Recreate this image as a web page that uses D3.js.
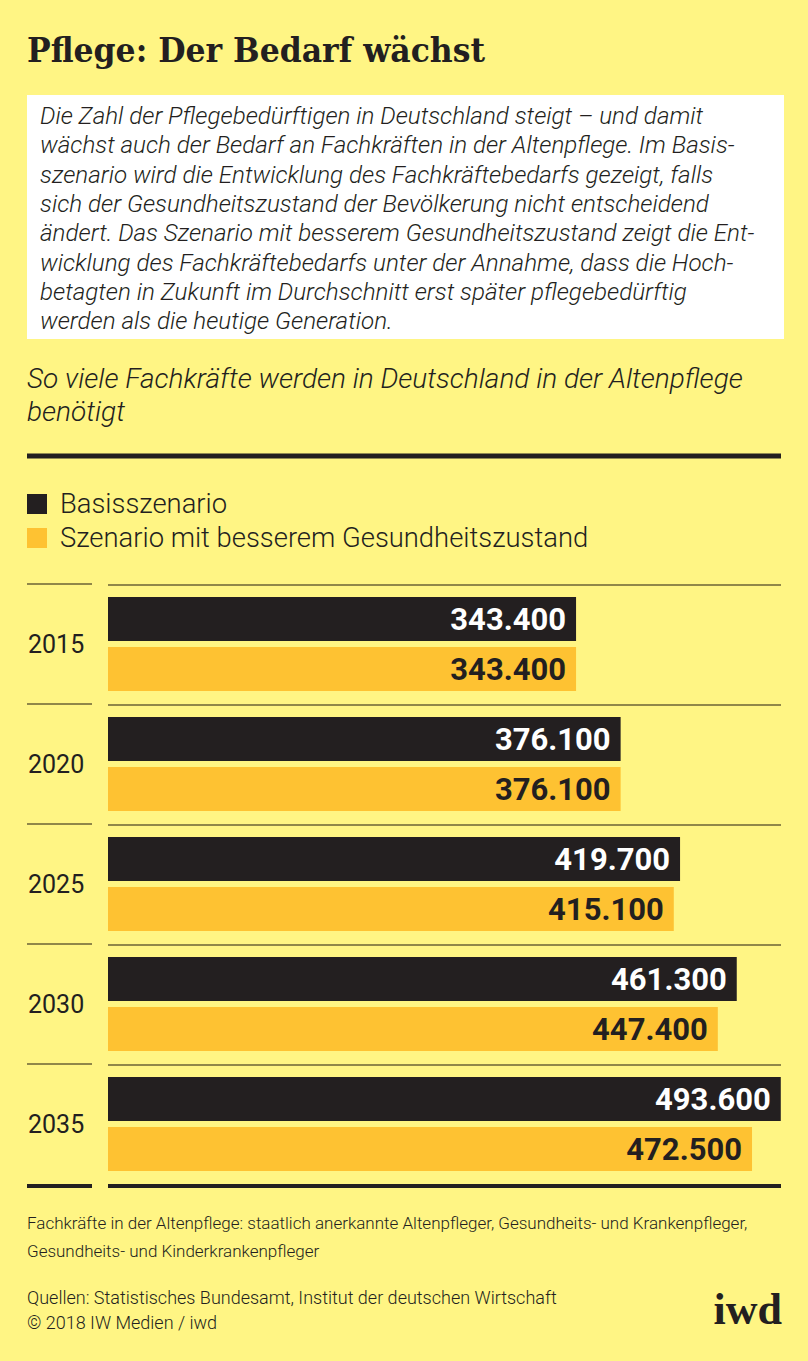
<!DOCTYPE html>
<html><head><meta charset="utf-8">
<script src="https://cdn.jsdelivr.net/npm/d3@7"></script>
<style>
html,body{margin:0;padding:0;background:#fff584;}
svg{display:block;}
</style></head>
<body>
<script>
const years = ["2015","2020","2025","2030","2035"];
const basis = [343400, 376100, 419700, 461300, 493600];
const besser = [343400, 376100, 415100, 447400, 472500];
const seriesNames = ["Basisszenario","Szenario mit besserem Gesundheitszustand"];
const title = "Pflege: Der Bedarf wächst";
const introLines = [
 "Die Zahl der Pflegebedürftigen in Deutschland steigt – und damit",
 "wächst auch der Bedarf an Fachkräften in der Altenpflege. Im Basis-",
 "szenario wird die Entwicklung des Fachkräftebedarfs gezeigt, falls",
 "sich der Gesundheitszustand der Bevölkerung nicht entscheidend",
 "ändert. Das Szenario mit besserem Gesundheitszustand zeigt die Ent-",
 "wicklung des Fachkräftebedarfs unter der Annahme, dass die Hoch-",
 "betagten in Zukunft im Durchschnitt erst später pflegebedürftig",
 "werden als die heutige Generation."
];
const subtitleLines = ["So viele Fachkräfte werden in Deutschland in der Altenpflege","benötigt"];
const noteLines = ["Fachkräfte in der Altenpflege: staatlich anerkannte Altenpfleger, Gesundheits- und Krankenpfleger,","Gesundheits- und Kinderkrankenpfleger"];
const sourceLines = ["Quellen: Statistisches Bundesamt, Institut der deutschen Wirtschaft","© 2018 IW Medien / iwd"];

const W = 808, H = 1361;
const BG = "#fff584", DARK = "#231f20", ORANGE = "#fec232", RULE = "#6b6236";
const SANS = "Roboto, 'Liberation Sans Narrow', sans-serif";

const svg = d3.select("body").append("svg").attr("width", W).attr("height", H);
svg.append("rect").attr("width", W).attr("height", H).attr("fill", BG);

// Title
svg.append("text").attr("x", 27).attr("y", 62).text(title)
  .attr("font-family", "'DejaVu Serif Condensed', 'DejaVu Serif', serif").attr("font-weight", "bold")
  .attr("font-size", 33).attr("fill", DARK)
  .attr("textLength", 458).attr("lengthAdjust", "spacingAndGlyphs");

// Intro box
svg.append("rect").attr("x", 27).attr("y", 95).attr("width", 757).attr("height", 244).attr("fill", "#ffffff");
svg.append("g").selectAll("text").data(introLines).join("text")
  .attr("x", 40).attr("y", (d, i) => 124 + i * 29.3)
  .attr("font-family", SANS).attr("font-style", "italic").attr("font-weight", 300)
  .attr("font-size", 24.2).attr("fill", DARK).text(d => d);

// Subtitle
svg.append("g").selectAll("text").data(subtitleLines).join("text")
  .attr("x", 27).attr("y", (d, i) => 388 + i * 33)
  .attr("font-family", SANS).attr("font-style", "italic").attr("font-weight", 300)
  .attr("font-size", 28).attr("fill", DARK).text(d => d);

// Thick rule
svg.append("rect").attr("x", 27).attr("y", 453.5).attr("width", 754).attr("height", 5).attr("fill", DARK);

// Legend
const colors = [DARK, ORANGE];
const lg = svg.append("g").selectAll("g").data(seriesNames).join("g")
  .attr("transform", (d, i) => `translate(27,${494 + i * 34})`);
lg.append("rect").attr("width", 20).attr("height", 20).attr("fill", (d, i) => colors[i]);
lg.append("text").attr("x", 33).attr("y", 19).text(d => d)
  .attr("font-family", SANS).attr("font-weight", 300).attr("font-size", 27.4).attr("fill", DARK);

// Scales
const x = d3.scaleLinear().domain([0, 500000]).range([108, 789.5]);
const y = d3.scaleBand().domain(years).range([584, 1184]).padding(0);
const ySub = d3.scaleBand().domain(["basis", "besser"]).range([13, 107]).paddingInner(0.12);

const de = d3.formatLocale({decimal: ",", thousands: ".", grouping: [3], currency: ["", "€"]});
const fmt = de.format(",");

// Separators
const sepG = svg.append("g");
years.forEach(yr => {
  sepG.append("line").attr("x1", 27).attr("x2", 92).attr("y1", y(yr)).attr("y2", y(yr)).attr("stroke", RULE).attr("stroke-width", 1.6);
  sepG.append("line").attr("x1", 108).attr("x2", 781).attr("y1", y(yr) + 1).attr("y2", y(yr) + 1).attr("stroke", RULE).attr("stroke-width", 1.6);
});
const yEnd = y.range()[1] + 2;
sepG.append("line").attr("x1", 27).attr("x2", 92).attr("y1", yEnd).attr("y2", yEnd).attr("stroke", DARK).attr("stroke-width", 4);
sepG.append("line").attr("x1", 108).attr("x2", 781).attr("y1", yEnd).attr("y2", yEnd).attr("stroke", DARK).attr("stroke-width", 4);

// Groups
const rows = years.map((yr, i) => ({year: yr, vals: [{k: "basis", v: basis[i]}, {k: "besser", v: besser[i]}]}));
const grp = svg.append("g").selectAll("g").data(rows).join("g")
  .attr("transform", d => `translate(0,${y(d.year)})`);

grp.append("text").attr("x", 28).attr("y", y.bandwidth() / 2 + 9).text(d => d.year)
  .attr("font-family", SANS).attr("font-size", 25).attr("fill", DARK);

const bar = grp.selectAll("g.b").data(d => d.vals).join("g").attr("class", "b");
bar.append("rect")
  .attr("x", x(0)).attr("y", d => ySub(d.k))
  .attr("width", d => x(d.v) - x(0)).attr("height", ySub.bandwidth())
  .attr("fill", d => d.k === "basis" ? DARK : ORANGE);
bar.append("text")
  .attr("x", d => x(d.v) - 10).attr("y", d => ySub(d.k) + ySub.bandwidth() / 2 + 11)
  .attr("text-anchor", "end").text(d => fmt(d.v))
  .attr("font-family", SANS).attr("font-weight", "bold").attr("font-size", 31)
  .attr("fill", d => d.k === "basis" ? "#ffffff" : DARK);

// Footer
svg.append("g").selectAll("text").data(noteLines).join("text")
  .attr("x", 27).attr("y", (d, i) => 1229 + i * 28).text(d => d)
  .attr("font-family", SANS).attr("font-weight", 300).attr("font-size", 17).attr("fill", DARK);
svg.append("g").selectAll("text").data(sourceLines).join("text")
  .attr("x", 27).attr("y", (d, i) => 1304 + i * 25).text(d => d)
  .attr("font-family", SANS).attr("font-weight", 300).attr("font-size", 18).attr("fill", DARK);

svg.append("text").attr("x", 782).attr("y", 1324).attr("text-anchor", "end").text("iwd")
  .attr("font-family", "'Liberation Serif', serif").attr("font-weight", "bold")
  .attr("font-size", 44).attr("fill", DARK);
</script>
</body></html>
